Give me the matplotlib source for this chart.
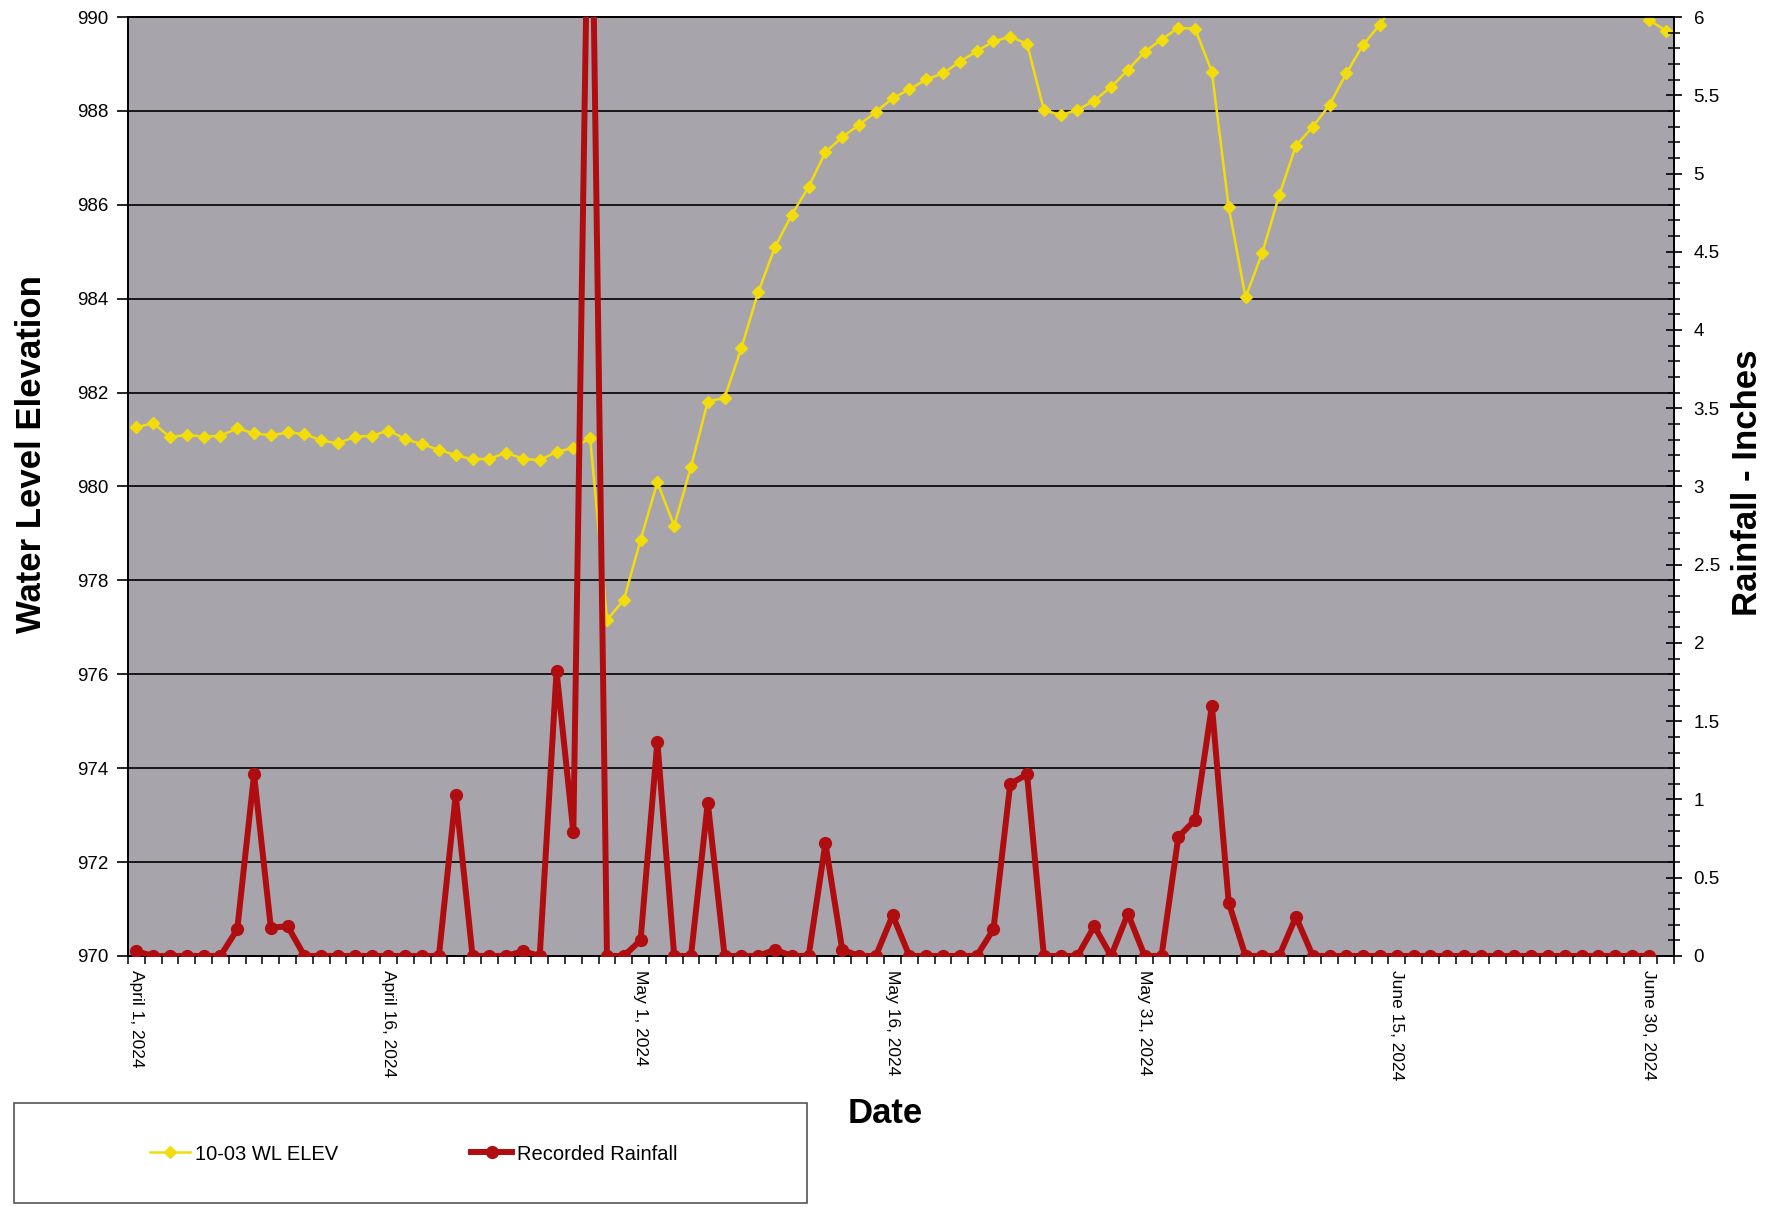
import matplotlib
matplotlib.use("Agg")
import matplotlib.pyplot as plt
from matplotlib.patches import Rectangle
from matplotlib.lines import Line2D
from matplotlib.ticker import MultipleLocator

plt.rcParams['font.family'] = ['Liberation Sans', 'DejaVu Sans']

# Water level (ft), daily from April 1 to July 1, 2024 (values above 990 are off the chart)
wl_elev = [
    981.26, 981.35, 981.05, 981.10, 981.06, 981.08, 981.24, 981.13, 981.09, 981.15,
    981.12, 980.98, 980.92, 981.06, 981.08, 981.19, 981.01, 980.90, 980.78, 980.67,
    980.58, 980.59, 980.72, 980.59, 980.56, 980.74, 980.82, 981.03, 977.16, 977.58,
    978.86, 980.09, 979.16, 980.42, 981.81, 981.89, 982.95, 984.14, 985.10, 985.79,
    986.38, 987.12, 987.44, 987.70, 987.98, 988.27, 988.46, 988.67, 988.80, 989.05,
    989.27, 989.48, 989.58, 989.43, 988.02, 987.91, 988.02, 988.22, 988.51, 988.87,
    989.26, 989.52, 989.77, 989.75, 988.83, 985.95, 984.03, 984.98, 986.20, 987.26,
    987.66, 988.13, 988.80, 989.41, 989.84, 990.37, 990.80, 991.10, 991.30, 991.50,
    991.60, 991.70, 991.60, 991.50, 991.30, 991.10, 990.90, 990.70, 990.50, 990.30,
    989.94, 989.71,
]

# Recorded rainfall (inches), daily from April 1 to June 30, 2024
rainfall = [
    0.03, 0, 0, 0, 0, 0, 0.17, 1.16, 0.18, 0.19,
    0, 0, 0, 0, 0, 0, 0, 0, 0, 1.03,
    0, 0, 0, 0.03, 0, 1.82, 0.79, 7.70, 0, 0,
    0.10, 1.37, 0, 0, 0.98, 0, 0, 0, 0.04, 0,
    0, 0.72, 0.04, 0, 0, 0.26, 0, 0, 0, 0,
    0, 0.17, 1.10, 1.16, 0, 0, 0, 0.19, 0, 0.27,
    0, 0, 0.76, 0.87, 1.60, 0.34, 0, 0, 0, 0.25,
    0, 0, 0, 0, 0, 0, 0, 0, 0, 0,
    0, 0, 0, 0, 0, 0, 0, 0, 0, 0,
    0,
]

date_labels = ["April 1, 2024", "April 16, 2024", "May 1, 2024", "May 16, 2024",
               "May 31, 2024", "June 15, 2024", "June 30, 2024"]
label_days = [0, 15, 30, 45, 60, 75, 90]

fig = plt.figure(figsize=(17.83, 12.07), dpi=100)
ax = fig.add_axes([0.0718, 0.2080, 0.8671, 0.7779])
ax.set_facecolor('#a8a4ab')

x_wl = list(range(len(wl_elev)))
x_rain = list(range(len(rainfall)))

ax.plot(x_wl, wl_elev, color='#f2dc0c', lw=1.8, marker='D', ms=5.8,
        mec='#f2dc0c', mfc='#f2dc0c', zorder=3)
ax.set_ylim(970, 990)
ax.set_xlim(-0.5, 91.5)
ax.yaxis.set_major_locator(MultipleLocator(2))
ax.grid(axis='y', color='black', lw=1.2)
ax.set_axisbelow(True)
ax.tick_params(axis='y', which='major', direction='out', length=8, width=1.2,
               labelsize=13.5, pad=6)
for sp in ax.spines.values():
    sp.set_color('black')
    sp.set_linewidth(1.3)

ax.set_xticks(label_days)
ax.set_xticklabels(date_labels, rotation=-90, fontsize=12.5, va='top', ha='center')
ax.tick_params(axis='x', which='major', length=0, pad=10)
ax.set_xticks([d - 0.5 for d in range(len(wl_elev) + 1)], minor=True)
ax.tick_params(axis='x', which='minor', direction='out', length=6, width=1.1)

ax2 = ax.twinx()
ax2.plot(x_rain, rainfall, color='#b00d10', lw=4.3, marker='o', ms=8.5,
         mec='#b00d10', mfc='#b00d10', zorder=4)
ax2.set_ylim(0, 6)
ax2.yaxis.set_major_locator(MultipleLocator(0.5))
ax2.yaxis.set_minor_locator(MultipleLocator(0.1))
ax2.set_yticklabels([f"{v:g}" for v in ax2.get_yticks()])
ax2.tick_params(axis='y', which='major', direction='inout', length=12, width=1.2,
                labelsize=13.5, pad=8)
ax2.tick_params(axis='y', which='minor', direction='inout', length=8, width=1.1)
for sp in ax2.spines.values():
    sp.set_color('black')
    sp.set_linewidth(1.3)

ax.set_ylabel("Water Level Elevation", fontsize=25, fontweight='bold')
ax.yaxis.set_label_coords(-0.052, 0.534)
ax2.set_ylabel("Rainfall - Inches", fontsize=25, fontweight='bold', rotation=90)
ax2.yaxis.set_label_coords(1.037, 0.504)
ax.set_xlabel("Date", fontsize=25, fontweight='bold', va='center')
ax.xaxis.set_label_coords(0.49, -0.168)

# legend box
fig.patches.append(Rectangle((0.0079, 0.0033), 0.4448, 0.0829, transform=fig.transFigure,
                             facecolor='white', edgecolor='#555555', lw=1.2))
handles = [
    Line2D([], [], color='#f2dc0c', lw=1.8, marker='D', ms=5.8),
    Line2D([], [], color='#b00d10', lw=4.3, marker='o', ms=8.5),
]
fig.legend(handles, ["10-03 WL ELEV", "Recorded Rainfall"], loc='center',
           bbox_to_anchor=(0.232, 0.0439), ncol=2, frameon=False, fontsize=14.5,
           handlelength=2.0, handletextpad=0.25, columnspacing=6.6)

fig.savefig("out.png", dpi=100, facecolor='white')
